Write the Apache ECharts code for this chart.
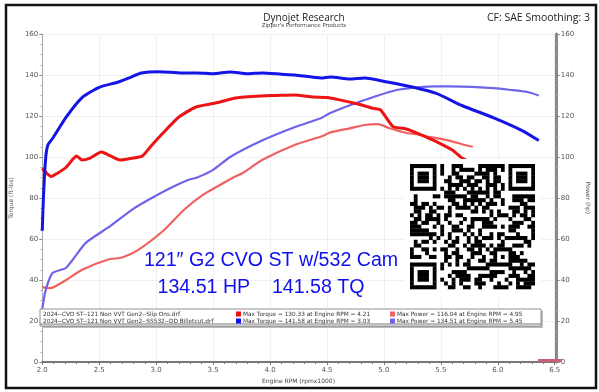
<!DOCTYPE html>
<html><head><meta charset="utf-8">
<script src="https://cdn.jsdelivr.net/npm/echarts@6/dist/echarts.min.js"></script>
<style>html,body{margin:0;padding:0;background:#fff}#c{width:599px;height:392px}</style>
</head><body><div id="c"></div>
<script>
// ---- data ----
const xTicks = ['2.0','2.5','3.0','3.5','4.0','4.5','5.0','5.5','6.0','6.5'];
const yTicks = [0,20,40,60,80,100,120,140,160];

const run1TorqueRpm = [2.00,2.04,2.08,2.13,2.21,2.27,2.30,2.35,2.42,2.52,2.60,2.69,2.80,2.88,2.95,3.06,3.20,3.35,3.52,3.70,3.93,4.05,4.21,4.38,4.50,4.60,4.76,4.91,4.97,5.08,5.17,5.26,5.36,5.46,5.60,5.69,5.78];
const run1Torque    = [94.5,92.0,90.5,92.0,95.0,99.0,100.5,98.5,99.5,102.4,100.5,98.5,99.5,100.5,105.0,111.7,119.5,124.4,126.3,128.8,129.8,130.0,130.3,129.3,129.0,128.0,126.0,123.7,123.0,114.8,114.0,112.4,110.0,107.5,103.4,99.4,96.5];

const run1PowerRpm = [2.00,2.07,2.21,2.35,2.58,2.70,2.84,3.07,3.24,3.41,3.59,3.67,3.76,3.93,4.22,4.45,4.53,4.70,4.83,4.95,5.05,5.20,5.30,5.40,5.57,5.70,5.78];
const run1Power    = [36.5,36.0,40.0,45.0,50.0,51.0,54.6,64.4,74.0,81.5,87.3,89.8,92.2,98.5,106.0,110.0,112.0,114.0,115.6,116.0,114.0,111.7,111.0,109.8,108.0,106.0,105.0];

const run2TorqueRpm = [2.00,2.01,2.03,2.05,2.09,2.21,2.35,2.50,2.67,2.78,2.87,3.03,3.22,3.36,3.50,3.65,3.80,3.93,4.10,4.22,4.45,4.53,4.70,4.83,5.03,5.26,5.46,5.69,5.97,6.21,6.36];
const run2Torque    = [64.0,80.0,99.5,106.0,109.0,119.5,129.0,134.0,136.6,139.0,141.0,141.6,141.0,141.0,140.6,141.5,140.6,141.0,140.4,140.0,138.5,139.0,138.0,138.5,136.6,134.0,131.0,125.0,119.0,113.0,108.0];

const run2PowerRpm = [2.00,2.03,2.09,2.21,2.38,2.59,2.78,2.93,3.13,3.28,3.36,3.50,3.65,3.93,4.22,4.45,4.53,4.83,5.11,5.30,5.45,5.69,5.85,5.97,6.10,6.26,6.36];
const run2Power    = [26.0,35.0,43.4,46.0,58.0,66.0,74.0,79.0,85.0,88.8,90.0,93.7,100.0,108.0,114.6,119.0,121.5,127.8,132.7,134.0,134.5,134.3,134.0,133.6,132.8,131.7,130.0];

const legendFiles = ['2024--CVO ST--121 Non VVT Gen2--Slip Ons.drf','2024--CVO ST--121 Non VVT Gen2--SS532--DD Billetcut.drf'];
const legendTorque = ['Max Torque = 130.33 at Engine RPM = 4.21','Max Torque = 141.58 at Engine RPM = 3.03'];
const legendPower = ['Max Power = 116.04 at Engine RPM = 4.95','Max Power = 134.51 at Engine RPM = 5.45'];

const zip = (a,b)=>a.map((v,i)=>[v,b[i]]);

// ---- decorative QR block ----
function qrBit(r,c,N){
  const fp=(rr,cc)=>Math.max(Math.abs(rr-3),Math.abs(cc-3))!==2;
  if(r<7&&c<7) return fp(r,c);
  if(r<7&&c>=N-7) return fp(r,c-(N-7));
  if(r>=N-7&&c<7) return fp(r-(N-7),c);
  if((r<8&&(c===7||c===N-8))||(c<8&&(r===7||r===N-8))||(r===7&&c>=N-8)||(c===7&&r>=N-8)) return false;
  const ac=N-9;
  if(Math.abs(r-ac)<=2&&Math.abs(c-ac)<=2) return Math.max(Math.abs(r-ac),Math.abs(c-ac))!==1;
  if(r===6) return c%2===0;
  if(c===6) return r%2===0;
  let h=Math.imul(r+11,73856093)^Math.imul(c+5,19349663);
  h=Math.imul(h^(h>>>13),1274126177);
  return ((h>>>15)&3)<2;
}
function qrGraphics(){
  const N=33, m=125/33, x0=410, y0=164, els=[];
  els.push({type:'rect',shape:{x:404,y:159,width:137,height:139},style:{fill:'#fff'},z:50});
  for(let r=0;r<N;r++){
    let c=0;
    while(c<N){
      if(qrBit(r,c,N)){
        let s=c; while(c<N&&qrBit(r,c,N)) c++;
        els.push({type:'rect',shape:{x:x0+s*m,y:y0+r*m,width:(c-s)*m,height:m+0.3},style:{fill:'#000'},z:51});
      } else c++;
    }
  }
  return els;
}

const chart = echarts.init(document.getElementById('c'));
const tickFont = {fontSize:7,color:'#555',fontFamily:'DejaVu Sans'};
const blueT='#1414e6', redT='#ec1414', blueP='#6e64ea', redP='#f06262';

const graphics = [
  {type:'rect',shape:{x:6,y:5,width:590,height:383},style:{fill:'none',stroke:'#111',lineWidth:2.5},z:60},
  {type:'text',x:304,y:18,style:{text:'Dynojet Research',font:'10px "Open Sans"',fill:'#222',textAlign:'center',textVerticalAlign:'middle'}},
  {type:'text',x:304,y:26,style:{text:"Zipper's Performance Products",font:'5.5px "DejaVu Sans"',fill:'#444',textAlign:'center',textVerticalAlign:'middle'}},
  {type:'text',x:590,y:18,style:{text:'CF: SAE Smoothing: 3',font:'10.5px "Open Sans"',fill:'#222',textAlign:'right',textVerticalAlign:'middle'}},
  {type:'text',x:271,y:260,scaleX:0.98,style:{text:'121\u2033 G2 CVO ST w/532 Cam',font:'20px "Liberation Sans"',fill:'#1010ee',textAlign:'center',textVerticalAlign:'middle'},z:40},
  {type:'text',x:261,y:287,scaleX:0.98,style:{text:'134.51 HP    141.58 TQ',font:'20px "Liberation Sans"',fill:'#1010ee',textAlign:'center',textVerticalAlign:'middle'},z:40},
  // legend box
  {type:'rect',shape:{x:42,y:311,width:501,height:17},style:{fill:'#bbb'},z:44},
  {type:'rect',shape:{x:40,y:309,width:501,height:17},style:{fill:'#fff',stroke:'#777',lineWidth:0.8},z:45},
  {type:'line',shape:{x1:40,y1:324,x2:541,y2:324},style:{stroke:'#555',lineWidth:0.8},z:46},
  {type:'rect',shape:{x:538,y:359,width:24,height:3},style:{fill:'#c8607a'},z:30}
];
legendFiles.forEach((t,i)=>{
  const y=314+i*7;
  graphics.push({type:'text',x:43,y:y,style:{text:t,font:'5.8px "DejaVu Sans"',fill:'#333',textVerticalAlign:'middle'},z:46});
  graphics.push({type:'rect',shape:{x:236,y:y-2.5,width:5,height:5},style:{fill:i?'#1010ee':'#ee1010'},z:46});
  graphics.push({type:'text',x:243,y:y,style:{text:legendTorque[i],font:'5.8px "DejaVu Sans"',fill:'#333',textVerticalAlign:'middle'},z:46});
  graphics.push({type:'rect',shape:{x:390,y:y-2.5,width:5,height:5},style:{fill:i?'#6e64ea':'#f06262'},z:46});
  graphics.push({type:'text',x:397,y:y,style:{text:legendPower[i],font:'5.8px "DejaVu Sans"',fill:'#333',textVerticalAlign:'middle'},z:46});
});

const yCommon = {type:'value',min:0,max:160,interval:20,
  axisLabel:Object.assign({margin:4},tickFont),
  axisTick:{show:true,length:3,lineStyle:{color:'#888'}},
  minorTick:{show:true,splitNumber:4,length:2,lineStyle:{color:'#bbb'}},
  nameLocation:'middle',nameTextStyle:{fontSize:6,color:'#555',fontFamily:'DejaVu Sans'}};

chart.setOption({
  animation:false,
  backgroundColor:'#fff',
  grid:{left:39,right:37,top:34,bottom:30},
  xAxis:{type:'value',min:2,max:6.5,interval:0.5,
    axisLabel:Object.assign({margin:5,formatter:(v)=>xTicks[Math.round((v-2)/0.5)]},tickFont),
    axisLine:{lineStyle:{color:'#777',width:2}},
    axisTick:{length:3,lineStyle:{color:'#777'}},
    minorTick:{show:true,splitNumber:5,length:2,lineStyle:{color:'#777'}},
    splitLine:{show:true,lineStyle:{color:'#f0f0f0'}},
    name:'Engine RPM (rpmx1000)',nameLocation:'middle',nameGap:14,
    nameTextStyle:{fontSize:6,color:'#444',fontFamily:'DejaVu Sans'}},
  yAxis:[
    Object.assign({},yCommon,{position:'left',name:'Torque (ft-lbs)',nameGap:20,nameRotate:90,
      axisLine:{show:true,lineStyle:{color:'#aaa',width:1}},
      splitLine:{show:true,lineStyle:{color:'#f0f0f0'}}}),
    Object.assign({},yCommon,{position:'right',offset:2,name:'Power (hp)',nameGap:19,nameRotate:-90,
      axisLine:{show:true,lineStyle:{color:'#888',width:3}},
      splitLine:{show:false}})
  ],
  graphic:graphics.concat(qrGraphics()),
  series:[
    {type:'line',yAxisIndex:1,data:zip(run1PowerRpm,run1Power),showSymbol:false,smooth:0.2,lineStyle:{color:redP,width:2.2},z:3},
    {type:'line',yAxisIndex:1,data:zip(run2PowerRpm,run2Power),showSymbol:false,smooth:0.2,lineStyle:{color:blueP,width:2.2},z:3},
    {type:'line',yAxisIndex:0,data:zip(run1TorqueRpm,run1Torque),showSymbol:false,smooth:0.2,lineStyle:{color:redT,width:3},z:4},
    {type:'line',yAxisIndex:0,data:zip(run2TorqueRpm,run2Torque),showSymbol:false,smooth:0.2,lineStyle:{color:blueT,width:3},z:4}
  ]
});
</script></body></html>
